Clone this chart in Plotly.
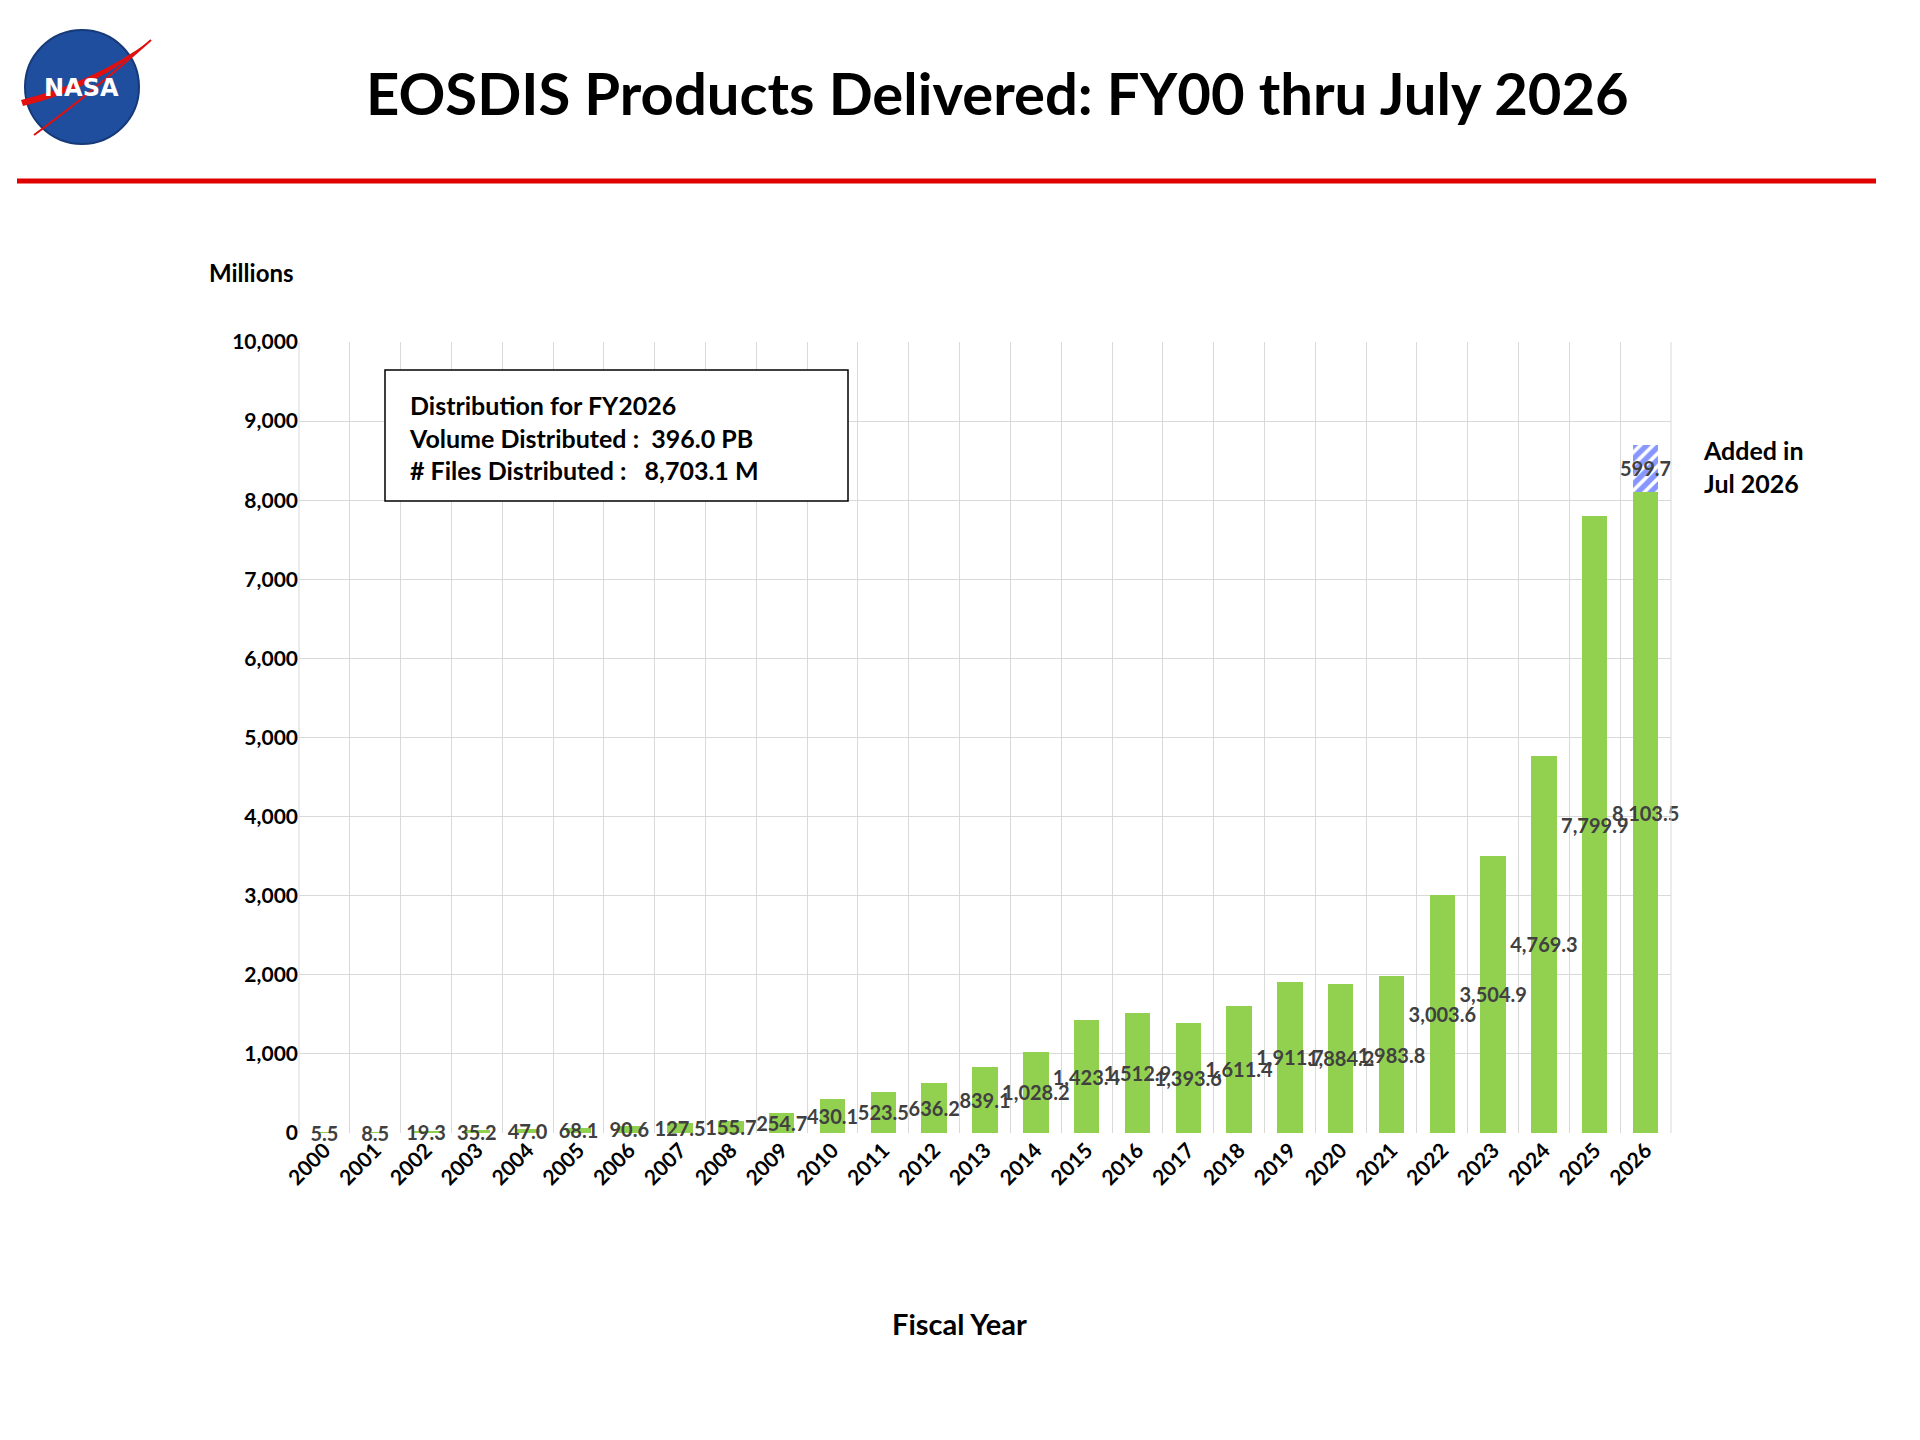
import plotly.graph_objects as go

years = [str(y) for y in range(2000, 2027)]
delivered = [5.5, 8.5, 19.3, 35.2, 47.0, 68.1, 90.6, 127.5, 155.7, 254.7, 430.1, 523.5,
             636.2, 839.1, 1028.2, 1423.4, 1512.9, 1393.6, 1611.4, 1911.7, 1884.2, 1983.8,
             3003.6, 3504.9, 4769.3, 7799.9, 8103.5]
added_year = ["2026"]
added_value = [599.7]
y_ticks = list(range(0, 10001, 1000))

W, H = 1920, 1440
DX, DY = -9, -8
L, R, T, B = 300 + DX, 248 - DX, 342 + DY, 307 - DY
PW, PH = W - L - R, H - T - B


def px(x):
    return (x + DX - L) / PW


def py(y):
    return (H - B - (y + DY)) / PH


FONT = "Lato, 'Open Sans', sans-serif"
GRAY = "#404040"
LABEL_FONT = dict(family=FONT, size=20, color=GRAY, weight="bold")

fig = go.Figure()
fig.add_trace(go.Bar(
    x=years, y=delivered, marker=dict(color="#92d050", line=dict(width=0)),
    text=[f"{v:,.1f}" for v in delivered], textposition="inside",
    insidetextanchor="middle", constraintext="none", textangle=0,
    insidetextfont=LABEL_FONT, cliponaxis=False, showlegend=False,
))
fig.add_trace(go.Bar(
    x=added_year, y=added_value,
    marker=dict(color="white", line=dict(width=0),
                pattern=dict(shape="/", fgcolor="#1030ff", bgcolor="white", size=9, solidity=0.6)),
    text=[f"{v:,.1f}" for v in added_value], textposition="inside",
    insidetextanchor="middle", constraintext="none", textangle=0,
    insidetextfont=LABEL_FONT, cliponaxis=False, showlegend=False,
))

fig.update_layout(
    barmode="stack", bargap=0.5,
    width=W, height=H, margin=dict(l=L, r=R, t=T, b=B),
    plot_bgcolor="white", paper_bgcolor="white",
    font=dict(family=FONT, color="black"),
)
fig.update_xaxes(
    tickangle=-45, tickfont=dict(family=FONT, size=21, color="black", weight="bold"),
    showgrid=True, gridcolor="#d9d9d9", showline=False, ticks="", tickson="boundaries",
)
fig.update_yaxes(
    range=[0, 10000], tickvals=y_ticks, tickformat=",d",
    tickfont=dict(family=FONT, size=21, color="black", weight="bold"),
    showgrid=True, gridcolor="#d9d9d9", zeroline=False, showline=False, ticks="",
)
fig.add_shape(type="line", xref="paper", yref="paper", x0=1, x1=1, y0=0, y1=1,
              line=dict(color="#d9d9d9", width=1))
fig.add_shape(type="line", xref="paper", yref="paper", x0=0, x1=0, y0=0, y1=1,
              line=dict(color="#d9d9d9", width=1))

# title and header line
fig.add_annotation(xref="paper", yref="paper", x=px(998), y=py(92), xanchor="center", yanchor="middle",
                   showarrow=False, text="<b>EOSDIS Products Delivered: FY00 thru July 2026</b>",
                   font=dict(family=FONT, size=58, color="black"))
fig.add_shape(type="line", xref="paper", yref="paper", x0=px(18), x1=px(1877), y0=py(181), y1=py(181),
              line=dict(color="#e00000", width=5))

# logo
fig.add_shape(type="circle", xref="paper", yref="paper", x0=px(26), x1=px(140), y0=py(30), y1=py(144),
              fillcolor="#1f4e9e", line=dict(color="#163a78", width=2))
fig.add_annotation(xref="paper", yref="paper", x=px(82), y=py(88), xanchor="center", yanchor="middle",
                   showarrow=False, text="<b>NASA</b>",
                   font=dict(family="DejaVu Sans", size=24, color="white"))
fig.add_shape(type="path", xref="paper", yref="paper",
              path=f"M {px(22)} {py(100)} Q {px(95)} {py(82)} {px(152)} {py(40)} Q {px(100)} {py(88)} {px(24)} {py(106)} Z",
              fillcolor="#e01010", line=dict(width=0))
fig.add_shape(type="path", xref="paper", yref="paper",
              path=f"M {px(35)} {py(135)} Q {px(90)} {py(95)} {px(152)} {py(40)}",
              line=dict(color="#e01010", width=2))

# axis labels
fig.add_annotation(xref="paper", yref="paper", x=px(208), y=py(272), xanchor="left", yanchor="middle",
                   showarrow=False, text="<b>Millions</b>", font=dict(family=FONT, size=24, color="black"))
fig.add_annotation(xref="paper", yref="paper", x=px(960), y=py(1323), xanchor="center", yanchor="middle",
                   showarrow=False, text="<b>Fiscal Year</b>", font=dict(family=FONT, size=29, color="black"))
fig.add_annotation(xref="paper", yref="paper", x=px(1702), y=py(466), xanchor="left", yanchor="middle",
                   align="left", showarrow=False, text="<b>Added in<br>Jul 2026</b>",
                   font=dict(family=FONT, size=25, color="black"))

# info box
fig.add_shape(type="rect", xref="paper", yref="paper", x0=px(386), x1=px(849), y0=py(370), y1=py(501),
              line=dict(color="black", width=1.5), fillcolor="white")
fig.add_annotation(xref="paper", yref="paper", x=px(408), y=py(437), xanchor="left", yanchor="middle",
                   align="left", showarrow=False,
                   text=("<b>Distribution for FY2026</b><br>"
                         "<b>Volume Distributed :  396.0 PB</b><br>"
                         "<b># Files Distributed :   8,703.1 M</b>"),
                   font=dict(family=FONT, size=25, color="black"))

fig.write_html("out.html")
